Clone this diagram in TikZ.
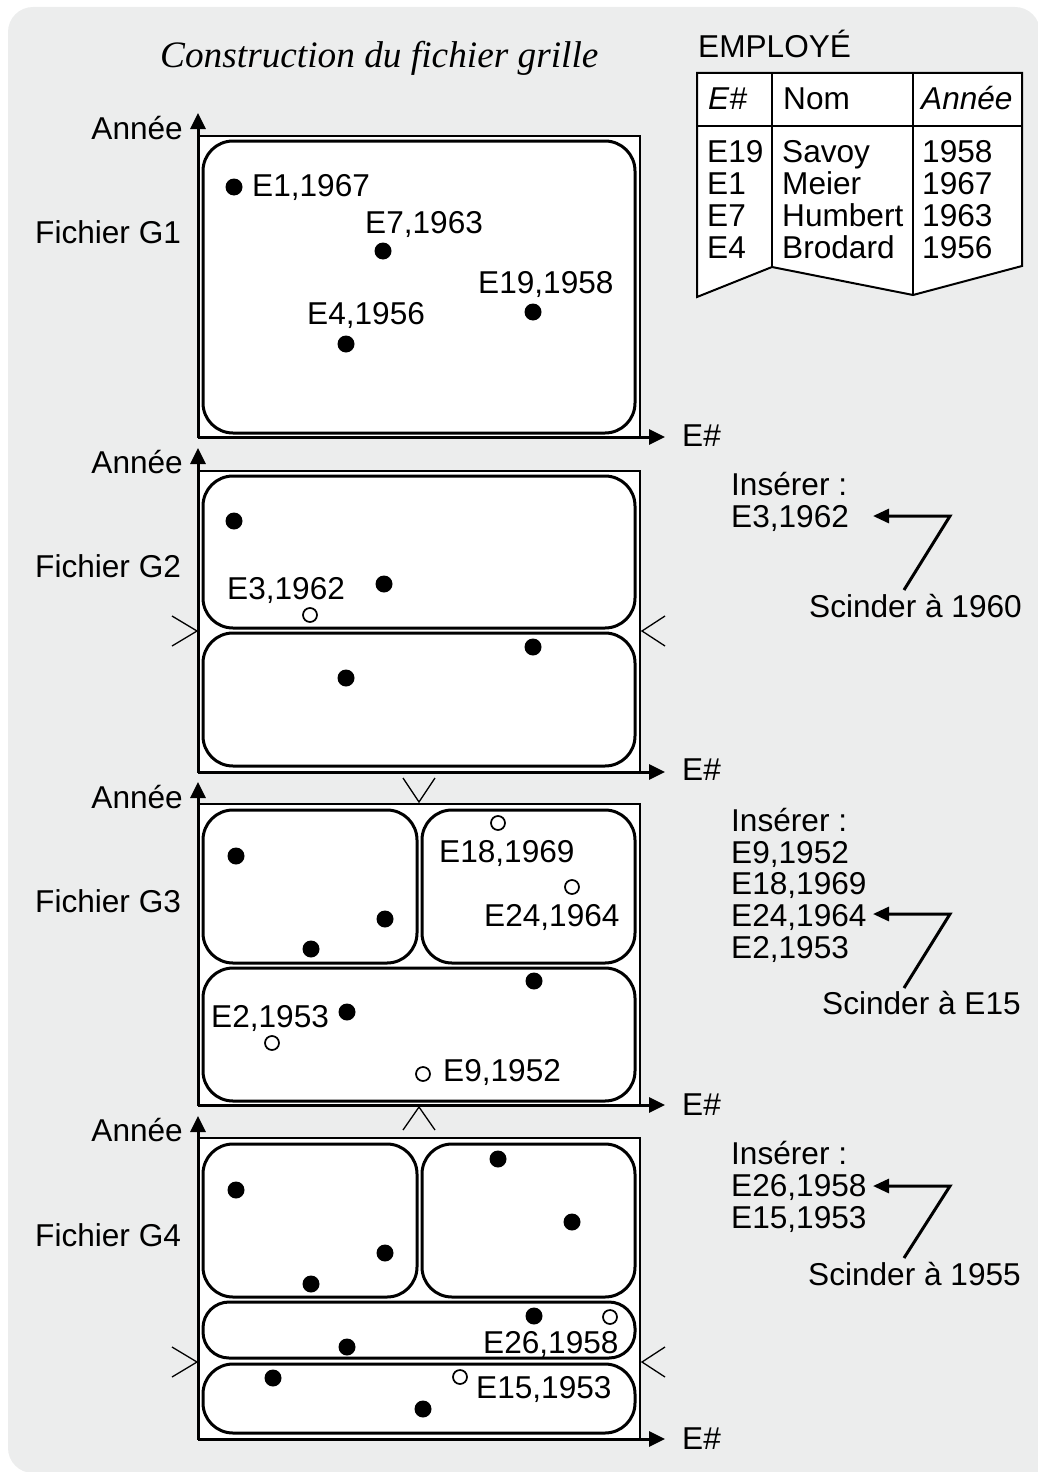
\documentclass[tikz,border=0pt]{standalone}
\usepackage{fontspec}
\setmainfont{Liberation Sans}
\newfontfamily\titlefont{Liberation Serif}
\usetikzlibrary{arrows.meta}
\definecolor{bggray}{HTML}{ECEDED}
\begin{document}
\begin{tikzpicture}[x=1pt,y=-1pt,
  lbl/.style={inner sep=0pt, anchor=base west, font=\fontsize{31.6}{32}\selectfont},
  lblr/.style={inner sep=0pt, anchor=base east, font=\fontsize{31.6}{32}\selectfont},
  dot/.style={circle, fill=black, inner sep=0pt, minimum size=17pt},
  odot/.style={circle, draw=black, fill=white, line width=1.7pt, inner sep=0pt, minimum size=14pt},
  frame/.style={draw=black, fill=white, line width=2pt},
  cell/.style={draw=black, line width=3pt, rounded corners=30pt},
  thincell/.style={draw=black, line width=3pt, rounded corners=26pt},
  axis/.style={line width=3pt, -{Triangle[length=16pt,width=15pt]}},
  splitmark/.style={line width=1.3pt},
  note/.style={line width=3pt, {Triangle[length=16pt,width=14pt]}-}]
\useasboundingbox (0,0) rectangle (1038,1472);
\begin{scope}
  \clip (0,0) rectangle (1038,1472);
  \fill[bggray, rounded corners=25pt] (8,7) rectangle (1040,1473);
  \fill[bggray] (900,1300) rectangle (1040,1473);
\end{scope}

% title
\node[inner sep=0pt, anchor=base west, font=\titlefont\itshape\fontsize{37.3}{38}\selectfont] (title) at (160,67) {Construction du fichier grille};

% table
\node[lbl] (emp) at (698,58) {EMPLOYÉ};
\draw[line width=2pt, fill=white] (697,73) -- (1022,73) -- (1022,266) -- (913,295) -- (772,267) -- (697,297) -- cycle;
\draw[line width=2pt] (697,126) -- (1022,126);
\draw[line width=2pt] (772,73) -- (772,267);
\draw[line width=2pt] (913,73) -- (913,295);
\node[lbl, font=\fontsize{31.6}{32}\selectfont\itshape] (hE) at (708,109) {E\#};
\node[lbl] (hN) at (783,109) {Nom};
\node[lbl, font=\fontsize{31.6}{32}\selectfont\itshape] (hA) at (921,109) {Année};
\node[lbl] (r1a) at (707,162) {E19};
\node[lbl] (r1b) at (782,162) {Savoy};
\node[lbl] (r1c) at (922,162) {1958};
\node[lbl] (r2a) at (707,194) {E1};
\node[lbl] (r2b) at (782,194) {Meier};
\node[lbl] (r2c) at (922,194) {1967};
\node[lbl] (r3a) at (707,226) {E7};
\node[lbl] (r3b) at (782,226) {Humbert};
\node[lbl] (r3c) at (922,226) {1963};
\node[lbl] (r4a) at (707,258) {E4};
\node[lbl] (r4b) at (782,258) {Brodard};
\node[lbl] (r4c) at (922,258) {1956};

% ---------- Panel G1 ----------
\draw[frame] (198,136) rectangle (640,437);
\coordinate (o1) at (198,437);
\coordinate (y1) at (198,113);
\coordinate (x1) at (665,437);
\draw[axis] (o1) -- (y1);
\draw[axis] (o1) -- (x1);
\node[lblr] (an1) at (183,139) {Année};
\node[lbl] (fg1) at (35,243) {Fichier G1};
\node[lbl] (ex1) at (682,446) {E\#};
\draw[cell] (203,141) rectangle (635,433);
\node[dot] (g1a) at (234,187) {};
\node[dot] (g1b) at (383,251) {};
\node[dot] (g1c) at (533,312) {};
\node[dot] (g1d) at (346,344) {};
\node[lbl] (l1a) at (252,196) {E1,1967};
\node[lbl] (l1b) at (365,233) {E7,1963};
\node[lbl] (l1c) at (478,293) {E19,1958};
\node[lbl] (l1d) at (307,324) {E4,1956};

% ---------- Panel G2 ----------
\draw[frame] (198,471) rectangle (640,772);
\coordinate (o2) at (198,772);
\coordinate (y2) at (198,448);
\coordinate (x2) at (665,772);
\draw[axis] (o2) -- (y2);
\draw[axis] (o2) -- (x2);
\node[lblr] (an2) at (183,473) {Année};
\node[lbl] (fg2) at (35,577) {Fichier G2};
\node[lbl] (ex2) at (682,780) {E\#};
\draw[cell] (203,476) rectangle (635,628);
\draw[cell] (203,633) rectangle (635,766);
\node[dot] (g2a) at (234,521) {};
\node[dot] (g2b) at (384,584) {};
\node[odot] (g2n) at (310,615) {};
\node[dot] (g2c) at (533,647) {};
\node[dot] (g2d) at (346,678) {};
\node[lbl] (l2n) at (227,599) {E3,1962};
\draw[splitmark] (172,616) -- (197,631) -- (172,646);
\draw[splitmark] (665,616) -- (642,631) -- (665,646);
% annotation
\node[lbl] (ins2) at (731,495) {Insérer :};
\node[lbl] (ins2a) at (731,527) {E3,1962};
\node[lbl] (sc2) at (809,617) {Scinder à 1960};
\coordinate (t2) at (873,516);
\coordinate (c2) at (950,516);
\coordinate (e2) at (904,590);
\draw[note] (t2) -- (c2) -- (e2);

% marker between G2 and G3
\draw[splitmark] (403,778) -- (419,802) -- (435,778);

% ---------- Panel G3 ----------
\draw[frame] (198,804) rectangle (640,1105);
\coordinate (o3) at (198,1105);
\coordinate (y3) at (198,782);
\coordinate (x3) at (665,1105);
\draw[axis] (o3) -- (y3);
\draw[axis] (o3) -- (x3);
\node[lblr] (an3) at (183,808) {Année};
\node[lbl] (fg3) at (35,912) {Fichier G3};
\node[lbl] (ex3) at (682,1115) {E\#};
\draw[cell] (203,810) rectangle (417,963);
\draw[cell] (422,810) rectangle (635,963);
\draw[cell] (203,968) rectangle (635,1101);
\node[dot] (g3a) at (236,856) {};
\node[dot] (g3b) at (385,919) {};
\node[dot] (g3c) at (311,949) {};
\node[odot] (g3n1) at (498,823) {};
\node[odot] (g3n2) at (572,887) {};
\node[dot] (g3d) at (534,981) {};
\node[dot] (g3e) at (347,1012) {};
\node[odot] (g3n3) at (272,1043) {};
\node[odot] (g3n4) at (423,1074) {};
\node[lbl] (l3n1) at (439,862) {E18,1969};
\node[lbl] (l3n2) at (484,926) {E24,1964};
\node[lbl] (l3n3) at (211,1027) {E2,1953};
\node[lbl] (l3n4) at (443,1081) {E9,1952};
% annotation
\node[lbl] (ins3) at (731,831) {Insérer :};
\node[lbl] (ins3a) at (731,863) {E9,1952};
\node[lbl] (ins3b) at (731,894) {E18,1969};
\node[lbl] (ins3c) at (731,926) {E24,1964};
\node[lbl] (ins3d) at (731,958) {E2,1953};
\node[lbl] (sc3) at (822,1014) {Scinder à E15};
\coordinate (t3) at (873,914);
\coordinate (c3) at (950,914);
\coordinate (e3) at (904,988);
\draw[note] (t3) -- (c3) -- (e3);

% marker between G3 and G4
\draw[splitmark] (403,1130) -- (419,1107) -- (435,1130);

% ---------- Panel G4 ----------
\draw[frame] (198,1138) rectangle (640,1439);
\coordinate (o4) at (198,1439);
\coordinate (y4) at (198,1116);
\coordinate (x4) at (665,1439);
\draw[axis] (o4) -- (y4);
\draw[axis] (o4) -- (x4);
\node[lblr] (an4) at (183,1141) {Année};
\node[lbl] (fg4) at (35,1246) {Fichier G4};
\node[lbl] (ex4) at (682,1449) {E\#};
\draw[cell] (203,1144) rectangle (417,1297);
\draw[cell] (422,1144) rectangle (635,1297);
\draw[thincell] (203,1302) rectangle (635,1358);
\draw[cell] (203,1364) rectangle (635,1433);
\node[dot] (g4a) at (236,1190) {};
\node[dot] (g4b) at (385,1253) {};
\node[dot] (g4c) at (311,1284) {};
\node[dot] (g4d) at (498,1159) {};
\node[dot] (g4e) at (572,1222) {};
\node[dot] (g4f) at (534,1316) {};
\node[odot] (g4n1) at (610,1317) {};
\node[dot] (g4g) at (347,1347) {};
\node[dot] (g4h) at (273,1378) {};
\node[odot] (g4n2) at (460,1377) {};
\node[dot] (g4i) at (423,1409) {};
\node[lbl] (l4n1) at (483,1353) {E26,1958};
\node[lbl] (l4n2) at (476,1398) {E15,1953};
\draw[splitmark] (172,1347) -- (197,1362) -- (172,1377);
\draw[splitmark] (665,1347) -- (642,1362) -- (665,1377);
% annotation
\node[lbl] (ins4) at (731,1164) {Insérer :};
\node[lbl] (ins4a) at (731,1196) {E26,1958};
\node[lbl] (ins4b) at (731,1228) {E15,1953};
\node[lbl] (sc4) at (808,1285) {Scinder à 1955};
\coordinate (t4) at (873,1186);
\coordinate (c4) at (950,1186);
\coordinate (e4) at (904,1258);
\draw[note] (t4) -- (c4) -- (e4);
\end{tikzpicture}
\end{document}
